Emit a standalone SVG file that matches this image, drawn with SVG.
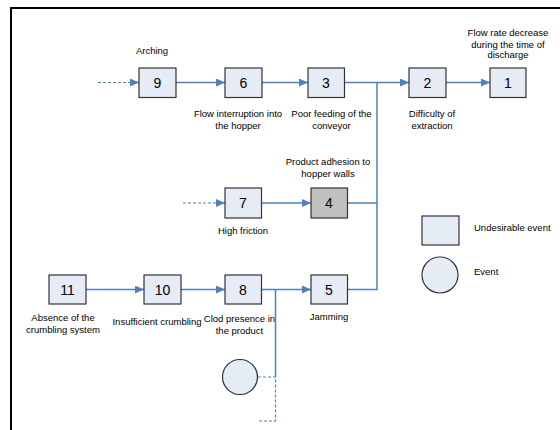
<svg xmlns="http://www.w3.org/2000/svg" width="560" height="430" viewBox="0 0 560 430">
<style>
.box{fill:#e6ecf6;stroke:#333;stroke-width:1.2}
.gray{fill:#c0c0c0;stroke:#333;stroke-width:1.2}
.num{font-family:"Liberation Sans",Arial,sans-serif;font-size:14px;text-anchor:middle;fill:#000}
.lbl{font-family:"Liberation Sans",Arial,sans-serif;font-size:9.5px;text-anchor:middle;fill:#000}
.leg{font-family:"Liberation Sans",Arial,sans-serif;font-size:9.5px;fill:#000}
.ln{fill:none;stroke:#4f81bd;stroke-width:1.5}
.dash{fill:none;stroke:#4f81bd;stroke-width:1.2;stroke-dasharray:3,2}
</style>
<defs>
<marker id="ah" markerWidth="10" markerHeight="8" refX="9" refY="4" orient="auto" markerUnits="userSpaceOnUse">
<path d="M0,0 L9,4 L0,8 Z" fill="#4f81bd"/>
</marker>
</defs>
<rect width="560" height="430" fill="#fff"/>
<g id="frame">
<path d="M11,430 V8 H560" fill="none" stroke="#000" stroke-width="2"/>
</g>
<g id="connectors">
<path class="dash" d="M98,82.5 H130" />
<path class="ln" d="M130,82.5 H139" marker-end="url(#ah)"/>
<path class="ln" d="M176,82.5 H225" marker-end="url(#ah)"/>
<path class="ln" d="M261,82.5 H308" marker-end="url(#ah)"/>
<path class="ln" d="M344,82.5 H409" marker-end="url(#ah)"/>
<path class="ln" d="M446,82.5 H490" marker-end="url(#ah)"/>
<path class="ln" d="M377,82.5 V289.5 H348"/>
<path class="ln" d="M348,203 H377"/>
<path class="dash" d="M183,203 H216"/>
<path class="ln" d="M216,203 H225" marker-end="url(#ah)"/>
<path class="ln" d="M261,203 H311" marker-end="url(#ah)"/>
<path class="ln" d="M86,289.5 H144" marker-end="url(#ah)"/>
<path class="ln" d="M181,289.5 H225" marker-end="url(#ah)"/>
<path class="ln" d="M261,289.5 H311" marker-end="url(#ah)"/>
<path class="ln" d="M275.5,289.5 V377"/>
<path class="dash" d="M258,377 H275.5 V421 H258"/>
</g>
<g id="n9"><rect class="box" x="139" y="68" width="37" height="29.5"/><text class="num" x="157.5" y="88">9</text><text class="lbl" x="152" y="54">Arching</text></g>
<g id="n6"><rect class="box" x="225" y="68" width="37" height="29.5"/><text class="num" x="243.5" y="88">6</text><text class="lbl" x="238" y="117">Flow interruption into</text><text class="lbl" x="238" y="129">the hopper</text></g>
<g id="n3"><rect class="box" x="308" y="68" width="36.5" height="29.5"/><text class="num" x="326" y="88">3</text><text class="lbl" x="331.5" y="117">Poor feeding of the</text><text class="lbl" x="331.5" y="129">conveyor</text></g>
<g id="n2"><rect class="box" x="409" y="68" width="37" height="29.5"/><text class="num" x="427.5" y="88">2</text><text class="lbl" x="432" y="117">Difficulty of</text><text class="lbl" x="432" y="129">extraction</text></g>
<g id="n1"><rect class="box" x="490" y="68" width="36" height="29.5"/><text class="num" x="508" y="88">1</text><text class="lbl" x="508" y="36">Flow rate decrease</text><text class="lbl" x="508" y="47.5">during the time of</text><text class="lbl" x="508" y="58">discharge</text></g>
<g id="n7"><rect class="box" x="225" y="188" width="36.5" height="30"/><text class="num" x="243" y="208">7</text><text class="lbl" x="243" y="234">High friction</text></g>
<g id="n4"><rect class="gray" x="311" y="188" width="36.5" height="30"/><text class="num" x="329" y="208">4</text><text class="lbl" x="328" y="165">Product adhesion to</text><text class="lbl" x="328" y="177">hopper walls</text></g>
<g id="n11"><rect class="box" x="49" y="275" width="37" height="29"/><text class="num" x="67.5" y="294.5">11</text><text class="lbl" x="63" y="321">Absence of the</text><text class="lbl" x="63" y="333">crumbling system</text></g>
<g id="n10"><rect class="box" x="144" y="275" width="37" height="29"/><text class="num" x="162.5" y="294.5">10</text><text class="lbl" x="157" y="325">Insufficient crumbling</text></g>
<g id="n8"><rect class="box" x="225" y="275" width="36.5" height="29"/><text class="num" x="243" y="294.5">8</text><text class="lbl" x="239.5" y="322">Clod presence in</text><text class="lbl" x="239.5" y="334">the product</text></g>
<g id="n5"><rect class="box" x="311" y="275" width="36.5" height="29"/><text class="num" x="329" y="294.5">5</text><text class="lbl" x="329" y="320">Jamming</text></g>
<g id="event"><circle class="box" cx="240" cy="377" r="17.5"/></g>
<g id="legend">
<rect class="box" x="422" y="216" width="37" height="29"/>
<text class="leg" x="474" y="231">Undesirable event</text>
<circle class="box" cx="440" cy="275" r="18"/>
<text class="leg" x="474" y="275">Event</text>
</g>
</svg>
